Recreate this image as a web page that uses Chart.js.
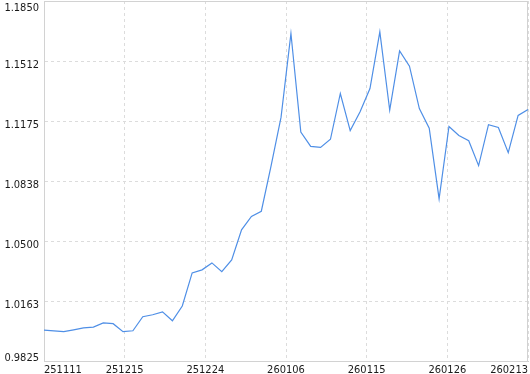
<!DOCTYPE html>
<html>
<head>
<meta charset="utf-8">
<script src="https://cdn.jsdelivr.net/npm/chart.js@4.4.1/dist/chart.umd.min.js"></script>
<style>
  html, body { margin: 0; padding: 0; background: #fff; overflow: hidden; }
  #wrap { width: 530px; height: 379px; position: relative; }
</style>
</head>
<body>
<div id="wrap"><canvas id="c"></canvas></div>
<script>
const values = [
  1.0003, 0.9999, 0.9994, 1.0004, 1.0015, 1.0020, 1.0043, 1.0039, 0.9994, 0.9999,
  1.0078, 1.0089, 1.0105, 1.0055, 1.0138, 1.0324, 1.0341, 1.0380, 1.0331, 1.0397,
  1.0566, 1.0641, 1.0670, 1.0928, 1.1198, 1.1668, 1.1114, 1.1034, 1.1028, 1.1074,
  1.1331, 1.1123, 1.1228, 1.1359, 1.1677, 1.1237, 1.1570, 1.1484, 1.1246, 1.1136,
  1.0739, 1.1146, 1.1095, 1.1066, 1.0926, 1.1156, 1.1140, 1.0999, 1.1208, 1.1241
]
const xTickLabels = ['251111', '251215', '251224', '260106', '260115', '260126', '260213']
const yTickValues = [0.9825, 1.0163, 1.0500, 1.0838, 1.1175, 1.1512, 1.1850]
const yTickLabels = ['0.9825', '1.0163', '1.0500', '1.0838', '1.1175', '1.1512', '1.1850']

const font = "'DejaVu Sans Condensed', 'DejaVu Sans', sans-serif"
const lastIndex = values.length - 1
const points = values.map((v, i) => ({x: i, y: v}))

// frame around the plot and y labels placed like the original (clamped inside plot)
const framePlugin = {
  id: 'frame',
  beforeDatasetsDraw(chart) {
    const {ctx, chartArea: a} = chart
    ctx.save()
    ctx.strokeStyle = '#d2d2d2'
    ctx.lineWidth = 1
    ctx.strokeRect(Math.round(a.left) + 0.5, Math.round(a.top) + 0.5,
      Math.round(a.right - a.left) - 1, Math.round(a.bottom - a.top) - 1)
    ctx.restore()
  },
  afterDraw(chart) {
    const {ctx, chartArea: a} = chart
    const y = chart.scales.y
    ctx.save()
    ctx.font = '11px ' + font
    ctx.fillStyle = '#1a1a1a'
    ctx.textAlign = 'right'
    ctx.textBaseline = 'alphabetic'
    yTickValues.forEach((v, i) => {
      const py = y.getPixelForValue(v)
      const by = Math.min(Math.max(py + 6.5, a.top + 9.5), a.bottom - 1)
      ctx.fillText(yTickLabels[i], a.left - 5, by)
    })
    ctx.restore()
  }
}

new Chart(document.getElementById('c'), {
  type: 'line',
  data: {
    datasets: [{
      data: points,
      borderColor: '#4f8fe6',
      borderWidth: 1.2,
      pointRadius: 0,
      tension: 0,
      fill: false
    }]
  },
  options: {
    responsive: true,
    maintainAspectRatio: false,
    animation: false,
    events: [],
    layout: { padding: { top: 1, right: 2, left: 0, bottom: 0 } },
    plugins: { legend: { display: false }, tooltip: { enabled: false } },
    scales: {
      x: {
        type: 'linear',
        min: 0,
        max: lastIndex,
        afterBuildTicks: scale => {
          scale.ticks = xTickLabels.map((l, i) => ({value: i * lastIndex / (xTickLabels.length - 1)}))
        },
        grid: { color: '#dcdcdc', drawTicks: false },
        border: { color: '#cfcfcf', dash: [3, 3] },
        ticks: {
          align: 'inner',
          autoSkip: false,
          maxRotation: 0,
          padding: 2,
          color: '#1a1a1a',
          font: { family: font, size: 11 },
          callback: (v, i) => xTickLabels[i]
        }
      },
      y: {
        type: 'linear',
        min: yTickValues[0],
        max: yTickValues[yTickValues.length - 1],
        afterBuildTicks: scale => {
          scale.ticks = yTickValues.map(v => ({value: v}))
        },
        afterFit: scale => { scale.width = 44 },
        grid: { color: '#dcdcdc', drawTicks: false },
        border: { color: '#cfcfcf', dash: [3, 3] },
        ticks: { display: false }
      }
    }
  },
  plugins: [framePlugin]
})
</script>
</body>
</html>
